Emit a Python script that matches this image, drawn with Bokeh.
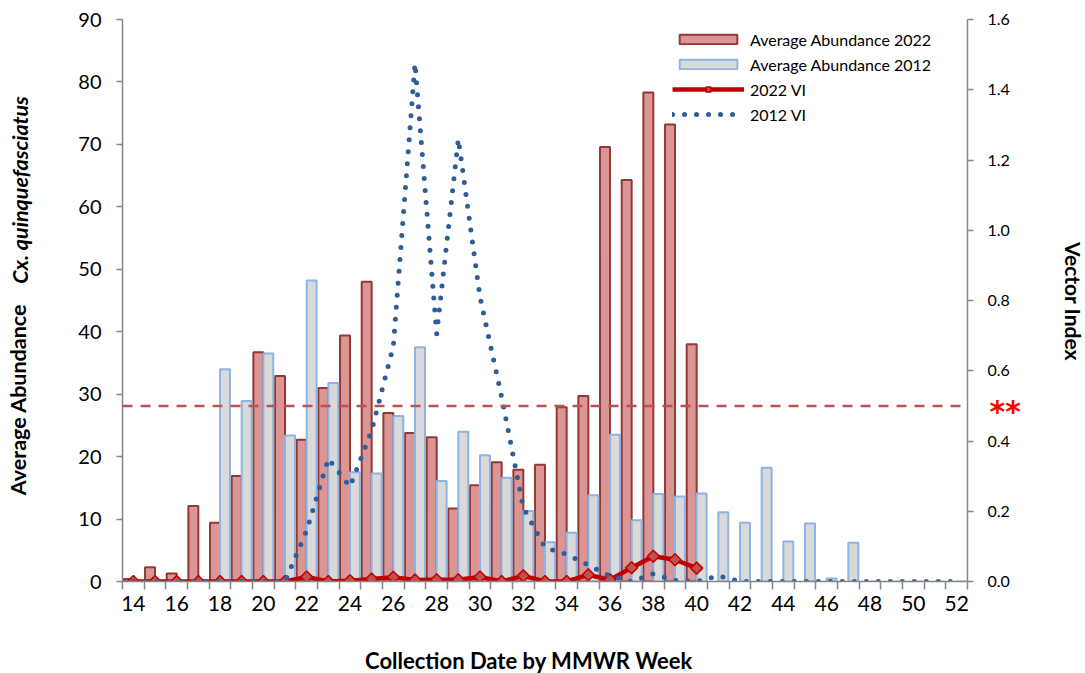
import math
import json
from bokeh.plotting import figure
from bokeh.models import (Range1d, LinearAxis, FixedTicker, Span, Legend,
                          LegendItem, ColumnDataSource, NumeralTickFormatter,
                          CustomJSTickFormatter)
from bokeh.transform import dodge
from bokeh.embed import file_html
from bokeh.resources import INLINE

# ---------------- data ----------------
weeks = list(range(14, 53))
weeks_2022 = list(range(14, 41))

abundance_2022 = [0.4, 2.3, 1.3, 12.1, 9.4, 16.9, 36.7, 32.9, 22.7, 31.0, 39.4, 48.0,
                  27.0, 23.8, 23.1, 11.7, 15.4, 19.1, 17.9, 18.7, 27.9, 29.7, 69.6,
                  64.3, 78.3, 73.2, 38.0]
abundance_2012 = [0, 0, 0, 0, 34.0, 28.9, 36.5, 23.4, 48.2, 31.8, 17.5, 17.3, 26.5,
                  37.5, 16.1, 24.0, 20.2, 16.6, 11.3, 6.3, 7.8, 13.8, 23.5, 9.8, 14.0,
                  13.6, 14.1, 11.1, 9.4, 18.2, 6.4, 9.3, 0.5, 6.2, 0, 0, 0, 0, 0]
vi_2022 = [0, 0, 0, 0, 0, 0, 0, 0, 0.013, 0.0, 0.002, 0.007, 0.012, 0.004, 0.005,
           0.005, 0.013, 0.0, 0.016, 0.0, 0.0, 0.019, 0.005, 0.039, 0.072, 0.062, 0.038]
vi_2012 = [0, 0, 0, 0, 0, 0, 0, 0, 0.145, 0.35, 0.27, 0.43, 0.67, 1.475, 0.705, 1.26,
           0.81, 0.525, 0.21, 0.097, 0.077, 0.047, 0.015, 0.0, 0.022, 0.003, 0.0,
           0.016, 0, 0, 0, 0, 0, 0, 0, 0, 0, 0, 0]
vi_threshold = 0.5

left_ticks = [0, 10, 20, 30, 40, 50, 60, 70, 80, 90]
right_ticks = [0, 0.2, 0.4, 0.6, 0.8, 1.0, 1.2, 1.4, 1.6]
week_labels = list(range(14, 53, 2))

FONT = "Lato"
AXIS_GRAY = "#868686"

# ---------------- layout geometry (pixels) ----------------
FL, FT, FW, FH = 122, 19, 845, 562          # frame left/top/width/height
W, H = 1085, 673
X0, X1 = 13.5, 52.5
Y0, Y1 = 0, 90
V0, V1 = 0, 1.6


def x_at(px):   # canvas x pixel -> x data
    return X0 + (px - FL) * (X1 - X0) / FW


def y_at(py):   # canvas y pixel -> left-axis data
    return Y0 + (FT + FH - py) * (Y1 - Y0) / FH


def v_at(py):   # canvas y pixel -> vector index data
    return V0 + (FT + FH - py) * (V1 - V0) / FH


src22 = ColumnDataSource(dict(week=weeks_2022, abundance=abundance_2022, vi=vi_2022))
src12 = ColumnDataSource(dict(week=weeks, abundance=abundance_2012, vi=vi_2012))

p = figure(frame_width=FW, frame_height=FH,
           min_border_left=FL, min_border_right=W - FL - FW, min_border_top=FT,
           min_border_bottom=H - FT - FH,
           x_range=Range1d(X0, X1), y_range=Range1d(Y0, Y1),
           output_backend="svg", toolbar_location=None)
p.extra_y_ranges = {"vi": Range1d(V0, V1)}
p.xgrid.visible = False
p.ygrid.visible = False
p.outline_line_color = None
p.background_fill_color = "white"
p.border_fill_color = "white"

# bars
r22 = p.vbar(x=dodge('week', -0.23), top='abundance', width=0.46, source=src22,
             fill_color="#DA9694", line_color="#953735", line_width=2)
r12 = p.vbar(x=dodge('week', 0.23), top='abundance', width=0.46, source=src12,
             fill_color="#D9D9D9", line_color="#8DB4E2", line_width=2)

# vector index lines
l22 = p.line('week', 'vi', source=src22, y_range_name="vi", line_color="#C00000",
             line_width=4.5, line_join="round")
m22 = p.scatter('week', 'vi', source=src22, y_range_name="vi", marker="square",
                angle=math.pi / 4, size=8.5, fill_color="#C0504D",
                line_color="#C00000", line_width=1.5)
l12 = p.line('week', 'vi', source=src12, y_range_name="vi", line_color="#2E5E9A",
             line_width=5, line_dash="0 12", line_cap="round")

# threshold
p.add_layout(Span(location=vi_threshold, dimension="width", y_range_name="vi",
                  line_color="#C0504D", line_width=2.5, line_dash="10 8"))

# ---------------- axes ----------------
xa = p.xaxis[0]
xa.ticker = FixedTicker(ticks=week_labels, minor_ticks=[w - 0.5 for w in weeks] + [52.5])
xa.major_tick_out = 0
xa.major_tick_in = 0
xa.minor_tick_out = 8
xa.minor_tick_in = 0
xa.minor_tick_line_color = AXIS_GRAY
xa.minor_tick_line_width = 1.5
xa.axis_line_color = AXIS_GRAY
xa.axis_line_width = 1.5
xa.major_label_text_font = FONT
xa.major_label_text_font_size = "21px"
xa.major_label_text_color = "black"
xa.major_label_standoff = 6

ya = p.yaxis[0]
ya.ticker = FixedTicker(ticks=left_ticks)
ya.minor_tick_line_color = None
ya.major_tick_out = 6
ya.major_tick_in = 0
ya.major_tick_line_color = AXIS_GRAY
ya.major_tick_line_width = 1.5
ya.axis_line_color = AXIS_GRAY
ya.axis_line_width = 1.5
ya.major_label_text_font = FONT
ya.major_label_text_font_size = "20px"
ya.major_label_text_color = "black"
ya.major_label_standoff = 15

ra = LinearAxis(y_range_name="vi", ticker=FixedTicker(ticks=right_ticks),
                formatter=NumeralTickFormatter(format="0.0"))
ra.minor_tick_line_color = None
ra.major_tick_out = 6
ra.major_tick_in = 0
ra.major_tick_line_color = AXIS_GRAY
ra.major_tick_line_width = 1.5
ra.axis_line_color = AXIS_GRAY
ra.axis_line_width = 1.5
ra.major_label_text_font = FONT
ra.major_label_text_font_size = "16px"
ra.major_label_text_color = "black"
ra.major_label_standoff = 14
p.add_layout(ra, "right")


def text_axis(side, text, tick, standoff, size, style="bold", color="black",
              orientation="horizontal", y_range_name="default", font=FONT):
    """An axis without line or ticks whose single tick label is a title text."""
    if side in ("left", "right"):
        ax = LinearAxis(y_range_name=y_range_name)
    else:
        ax = LinearAxis()
    ax.ticker = FixedTicker(ticks=[tick])
    ax.formatter = CustomJSTickFormatter(code="return %s;" % json.dumps(text))
    ax.axis_line_color = None
    ax.major_tick_line_color = None
    ax.minor_tick_line_color = None
    ax.major_tick_out = 0
    ax.major_tick_in = 0
    ax.minor_tick_out = 0
    ax.minor_tick_in = 0
    ax.major_label_standoff = standoff
    ax.major_label_orientation = orientation
    ax.major_label_text_font = font
    ax.major_label_text_font_size = size
    ax.major_label_text_font_style = style
    ax.major_label_text_color = color
    p.add_layout(ax, side)
    return ax


# left title in two styles, on one line (reads bottom to top)
text_axis("left", "Average Abundance", y_at(399), 45, "21.5px", "bold",
          orientation="vertical")
text_axis("left", "Cx. quinquefasciatus", y_at(189.5), -31, "21.5px",
          "bold italic", orientation="vertical")
# threshold marker next to the right axis
text_axis("right", "**", v_at(411), -23, "30px", "bold", color="#FF0000",
          y_range_name="vi", font="DejaVu Sans")
# right title (reads top to bottom)
text_axis("right", "Vector Index", v_at(301), 37, "21px", "bold",
          orientation="vertical", y_range_name="vi")
# x title
text_axis("below", "Collection Date by MMWR Week", x_at(528.5), 33, "22px", "bold")

legend = Legend(items=[
    LegendItem(label="Average Abundance 2022", renderers=[r22]),
    LegendItem(label="Average Abundance 2012", renderers=[r12]),
    LegendItem(label="2022 VI", renderers=[l22, m22]),
    LegendItem(label="2012 VI", renderers=[l12]),
], location=(550, 457))
legend.border_line_color = None
legend.background_fill_alpha = 0
legend.padding = 0
legend.margin = 0
legend.spacing = 5
legend.glyph_width = 72
legend.glyph_height = 12
legend.label_height = 20
legend.label_standoff = 6
legend.label_text_font = FONT
legend.label_text_font_size = "16px"
legend.label_text_color = "black"
p.add_layout(legend)

open("out.html", "w").write(file_html(p, INLINE))
